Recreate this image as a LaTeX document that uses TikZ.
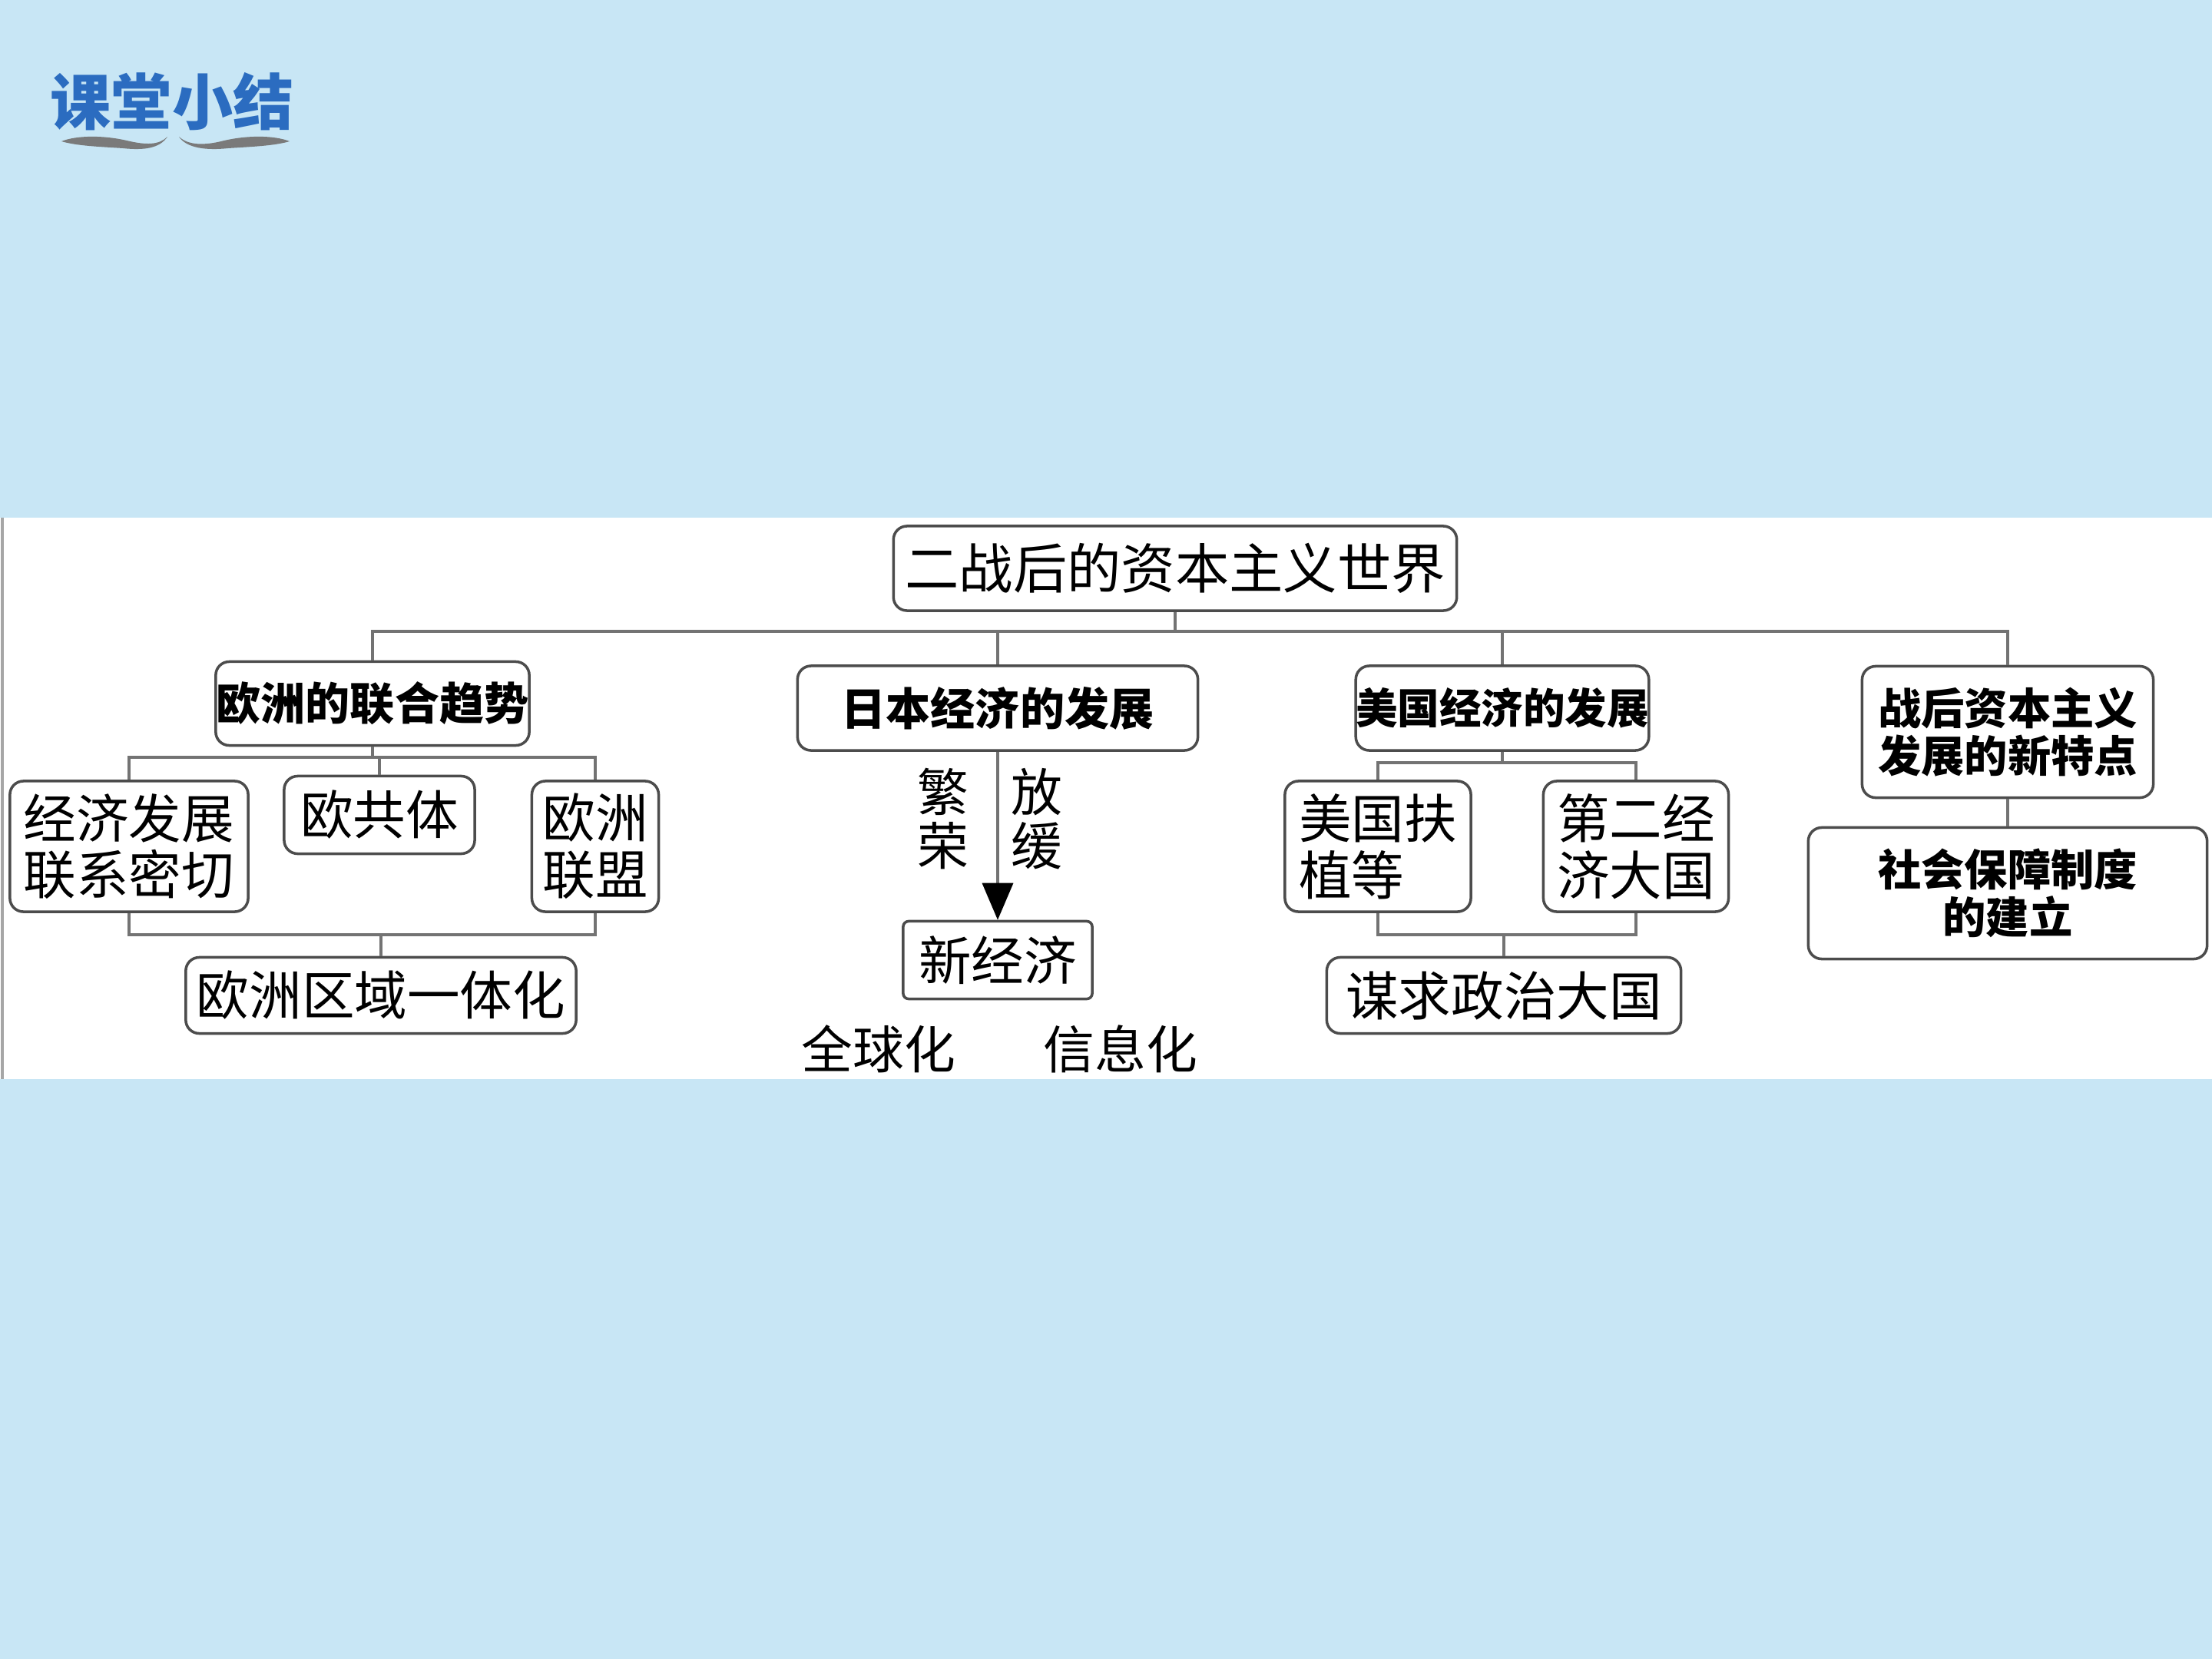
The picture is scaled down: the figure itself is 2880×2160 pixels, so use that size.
\documentclass[tikz,border=0pt]{standalone}
\usepackage{fontspec}
\newfontfamily\cjk{Noto Sans CJK SC}
\usetikzlibrary{arrows.meta}
\definecolor{slidebg}{HTML}{C8E6F5}
\definecolor{titleblue}{HTML}{2B6CC0}
\definecolor{swoosh}{HTML}{7A7A7A}

\begin{document}
\begin{tikzpicture}[
    x=0.01cm, y=-0.01cm,
    every node/.style={font=\cjk},
    box/.style={rectangle, draw=black!70, line width=1pt, fill=white, rounded corners=5pt, align=center, inner sep=0pt, font=\cjk\fontsize{19.5}{21}\selectfont},
    head/.style={box, font=\cjk\bfseries\fontsize{16}{17.5}\selectfont},
    lbl/.style={align=center, inner sep=0pt, font=\cjk\fontsize{19}{20}\selectfont},
    link/.style={draw=black!55, line width=1pt}
]
\useasboundingbox (0,0) rectangle (2880,2160);
\fill[slidebg] (0,0) rectangle (2880,2160);
\fill[white] (0,674) rectangle (2880,1405);
\draw[black!35, line width=1.2pt] (3,674) -- (3,1405);

% title
\node[font=\cjk\bfseries\fontsize{22.5}{22.5}\selectfont, text=titleblue, inner sep=0pt] (title) at (224,132) {课堂小结};
\fill[swoosh] (80,184) .. controls (100,176) and (135,176) .. (165,183) .. controls (190,189) and (207,189) .. (218,178)
    .. controls (208,193) and (188,196) .. (160,193) .. controls (130,191) and (100,190) .. (80,184) -- cycle;
\fill[swoosh] (233,178) .. controls (245,189) and (265,190) .. (292,183) .. controls (322,176) and (357,176) .. (377,184)
    .. controls (357,190) and (327,191) .. (297,193) .. controls (269,196) and (243,193) .. (233,178) -- cycle;

% top level
\node[box, minimum width=7.33cm, minimum height=1.1cm, font=\cjk\fontsize{20}{22}\selectfont] (root) at (1530,740) {二战后的资本主义世界};
\node[head, minimum width=4.08cm, minimum height=1.09cm, font=\cjk\bfseries\fontsize{16.5}{18}\selectfont] (eu) at (485,916) {欧洲的联合趋势};
\node[head, minimum width=5.21cm, minimum height=1.1cm, font=\cjk\bfseries\fontsize{16.5}{18}\selectfont] (jp) at (1299,922) {日本经济的发展};
\node[head, minimum width=3.79cm, minimum height=1.1cm, font=\cjk\bfseries\fontsize{15.5}{17}\selectfont] (us) at (1956,922) {美国经济的发展};
\node[head, minimum width=3.79cm, minimum height=1.71cm] (feat) at (2614,953) {战后资本主义\\发展的新特点};
\node[head, minimum width=5.19cm, minimum height=1.71cm] (social) at (2614,1163) {社会保障制度\\的建立};

% europe
\node[box, minimum width=3.1cm, minimum height=1.7cm] (eulink) at (168,1102) {经济发展\\联系密切};
\node[box, minimum width=2.48cm, minimum height=1.01cm] (eucom) at (494,1061) {欧共体};
\node[box, minimum width=1.65cm, minimum height=1.7cm] (euunion) at (775,1102) {欧洲\\联盟};
\node[box, minimum width=5.08cm, minimum height=0.99cm] (euregion) at (496,1296) {欧洲区域一体化};

% japan
\node[box, rounded corners=2pt, minimum width=2.46cm, minimum height=1.01cm] (jpnew) at (1299,1250) {新经济};
\node[lbl] (jpboom) at (1228,1066) {繁\\荣};
\node[lbl] (jpslow) at (1350,1066) {放\\缓};
\node[lbl] (glob) at (1144,1366) {全球化};
\node[lbl] (info) at (1459,1366) {信息化};

% usa
\node[box, align=left, minimum width=2.42cm, minimum height=1.7cm] (usaid) at (1794,1102) {美国扶\\植等};
\node[box, minimum width=2.41cm, minimum height=1.7cm] (usecon) at (2130,1102) {第二经\\济大国};
\node[box, minimum width=4.61cm, minimum height=0.99cm] (uspol) at (1958,1296) {谋求政治大国};

\coordinate (bus) at (0,822);
\coordinate (eutop) at (0,986);
\coordinate (eubot) at (0,1217);
\coordinate (ustop) at (0,993);
\coordinate (usbot) at (0,1217);

\draw[link] (root.south) -- (root.south |- bus);
\draw[link] (eu.north) |- (feat.north |- bus) -- (feat.north);
\foreach \n in {jp,us}
    \draw[link] (\n.north) -- (\n.north |- bus);

\draw[link] (eu.south) -- (eu.south |- eutop);
\draw[link] (eulink.north) |- (euunion.north |- eutop) -- (euunion.north);
\draw[link] (eucom.north) -- (eucom.north |- eutop);
\draw[link] (eulink.south) |- (euunion.south |- eubot) -- (euunion.south);
\draw[link] (euregion.north) -- (euregion.north |- eubot);

\draw[link, -{Triangle[length=0.48cm, width=0.4cm, color=black]}] (jp.south) -- (jpnew.north);

\draw[link] (us.south) -- (us.south |- ustop);
\draw[link] (usaid.north) |- (usecon.north |- ustop) -- (usecon.north);
\draw[link] (usaid.south) |- (usecon.south |- usbot) -- (usecon.south);
\draw[link] (uspol.north) -- (uspol.north |- usbot);

\draw[link] (feat.south) -- (social.north);

\end{tikzpicture}
\end{document}
